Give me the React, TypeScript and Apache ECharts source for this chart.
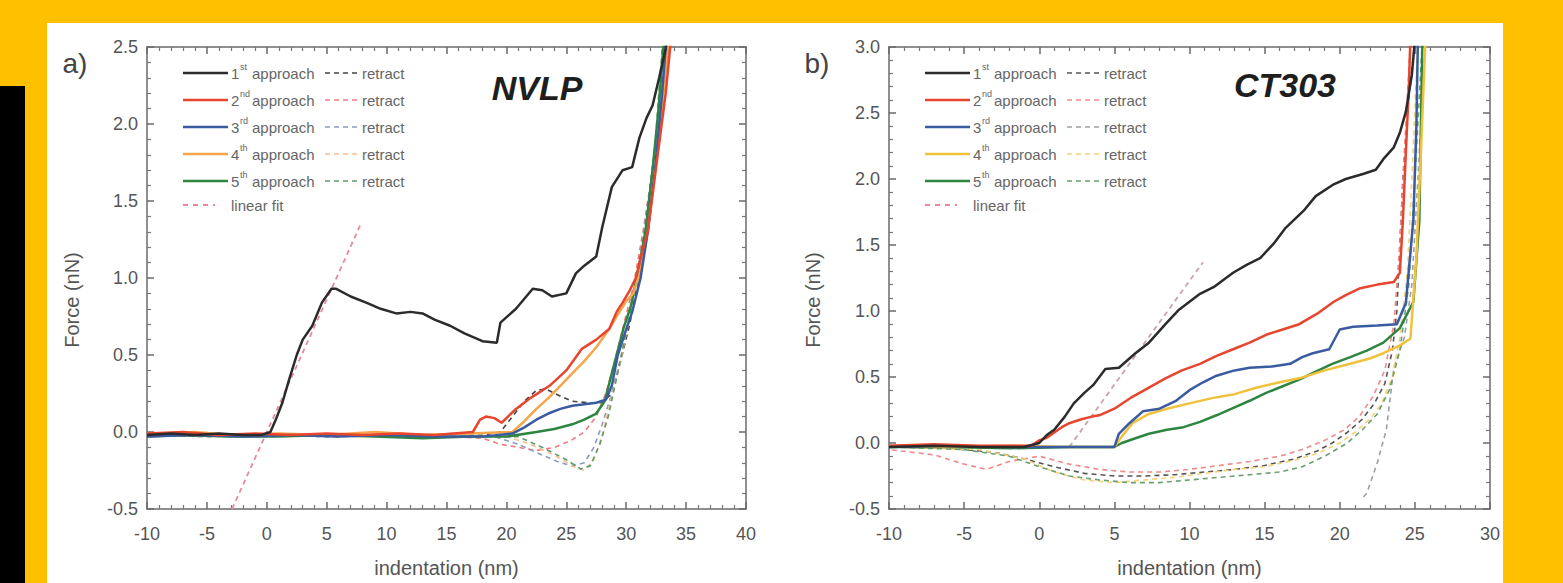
import React, { useEffect, useRef } from "react";
import * as echarts from "echarts";

type P = [number, number][];

// ---------- Panel a) NVLP ----------
const xTicksA = { min: -10, max: 40, step: 5 };
const yTicksA = { min: -0.5, max: 2.5, step: 0.5 };

const nvlpApproach1: P = [[-10,-0.02],[-8,-0.01],[-6,-0.02],[-4,-0.01],[-2,-0.02],[-0.5,-0.02],[0.3,0.0],[0.8,0.09],[1.3,0.19],[1.9,0.35],[2.5,0.5],[3,0.6],[3.8,0.69],[4.6,0.84],[5.4,0.93],[5.8,0.93],[7,0.88],[8.3,0.84],[9.5,0.8],[10.8,0.77],[12,0.78],[13,0.77],[14,0.73],[15.3,0.69],[16.5,0.64],[18,0.59],[19.2,0.58],[19.5,0.71],[20.8,0.8],[22.2,0.93],[23,0.92],[23.8,0.88],[25,0.9],[25.8,1.03],[26.5,1.08],[27.5,1.14],[28,1.33],[28.8,1.59],[29.7,1.7],[30.5,1.72],[31.1,1.91],[31.7,2.04],[32.2,2.12],[32.75,2.3],[33.3,2.49],[33.5,2.6]];
const nvlpRetract1: P = [[33.5,2.6],[33.2,2.3],[32.5,1.8],[31.8,1.4],[31,1.0],[30.3,0.7],[29.5,0.45],[28.8,0.25],[28,0.19],[26.8,0.19],[25.5,0.2],[24.3,0.24],[23.3,0.28],[22.5,0.27],[21.5,0.2],[20.5,0.1],[19.5,0.0],[18,-0.02],[14,-0.03],[10,-0.02],[6,-0.03],[2,-0.02],[-2,-0.03],[-6,-0.02],[-10,-0.02]];
const nvlpApproach2: P = [[-10,-0.01],[-7,0.0],[-4,-0.02],[-1,-0.01],[2,-0.02],[5,-0.01],[8,-0.02],[11,-0.01],[14,-0.02],[17.2,0.0],[17.8,0.08],[18.3,0.1],[19,0.09],[19.6,0.06],[20.8,0.15],[22,0.22],[23.6,0.3],[25,0.4],[26.3,0.54],[27.5,0.6],[28.6,0.67],[29.2,0.78],[29.7,0.84],[30.3,0.92],[30.8,1.0],[31.3,1.16],[31.8,1.3],[32.3,1.6],[32.8,1.9],[33.3,2.2],[33.8,2.6]];
const nvlpRetract2: P = [[33.8,2.6],[33,2.15],[32.2,1.7],[31.4,1.3],[30.6,0.95],[29.8,0.7],[29,0.45],[28.3,0.25],[27.5,0.1],[26.5,0.0],[25.5,-0.05],[24,-0.1],[22.5,-0.12],[21,-0.1],[19.5,-0.08],[18,-0.04],[15,-0.03],[10,-0.02],[5,-0.03],[0,-0.02],[-5,-0.03],[-10,-0.02]];
const nvlpApproach3: P = [[-10,-0.03],[-6,-0.02],[-2,-0.03],[2,-0.02],[6,-0.03],[10,-0.02],[14,-0.03],[18,-0.03],[20.5,-0.01],[21.5,0.03],[22.5,0.08],[23.5,0.12],[24.5,0.15],[25.5,0.17],[26.5,0.18],[27.5,0.19],[28.3,0.21],[28.8,0.3],[29.3,0.5],[29.8,0.62],[30.5,0.78],[31.2,1.0],[31.8,1.3],[32.4,1.7],[33,2.2],[33.4,2.6]];
const nvlpRetract3: P = [[33.4,2.6],[32.8,2.1],[32,1.6],[31.2,1.15],[30.4,0.8],[29.6,0.5],[28.8,0.25],[28,0.05],[27.3,-0.1],[26.5,-0.2],[25.5,-0.22],[24.5,-0.2],[23,-0.15],[21,-0.08],[19,-0.03],[15,-0.02],[10,-0.03],[5,-0.02],[0,-0.03],[-5,-0.02],[-10,-0.03]];
const nvlpApproach4: P = [[-10,-0.02],[-6,0.0],[-3,-0.02],[1,-0.01],[5,-0.02],[9,0.0],[13,-0.02],[17,-0.01],[20.5,0.0],[21.5,0.07],[22.5,0.15],[23.5,0.22],[24.5,0.3],[25.5,0.38],[26.5,0.46],[27.5,0.55],[28.5,0.66],[29.2,0.75],[30,0.85],[30.6,0.9],[31.2,1.05],[31.8,1.3],[32.4,1.7],[33,2.1],[33.6,2.6]];
const nvlpRetract4: P = [[33.5,2.6],[32.7,2.0],[31.9,1.5],[31.1,1.1],[30.3,0.75],[29.5,0.45],[28.7,0.2],[28,-0.02],[27.3,-0.18],[26.5,-0.25],[25.5,-0.22],[24,-0.15],[22,-0.08],[20,-0.03],[15,-0.02],[10,-0.03],[5,-0.02],[0,-0.03],[-5,-0.02],[-10,-0.03]];
const nvlpApproach5: P = [[-10,-0.03],[-7,-0.02],[-3,-0.03],[1,-0.03],[5,-0.02],[9,-0.03],[13,-0.04],[17,-0.03],[20,-0.03],[22.5,0.0],[24,0.02],[25.5,0.05],[26.5,0.08],[27.5,0.12],[28.2,0.2],[28.7,0.35],[29.2,0.5],[29.8,0.68],[30.4,0.82],[31,1.05],[31.6,1.3],[32.2,1.7],[32.7,2.1],[33.2,2.6]];
const nvlpRetract5: P = [[33.1,2.6],[32.4,1.85],[31.6,1.35],[30.8,0.95],[30,0.65],[29.2,0.35],[28.5,0.1],[27.8,-0.08],[27,-0.22],[26.2,-0.24],[25,-0.18],[23,-0.1],[21,-0.03],[15,-0.03],[10,-0.02],[5,-0.03],[0,-0.02],[-5,-0.03],[-10,-0.02]];
const nvlpLinearFit: P = [[-2.9,-0.5],[7.9,1.36]];

// ---------- Panel b) CT303 ----------
const xTicksB = { min: -10, max: 30, step: 5 };
const yTicksB = { min: -0.5, max: 3.0, step: 0.5 };

const ctApproach1: P = [[-10,-0.03],[-7,-0.02],[-4,-0.03],[-1,-0.03],[0,0.0],[0.5,0.06],[1,0.1],[1.7,0.2],[2.3,0.3],[3,0.38],[3.6,0.44],[4.4,0.56],[5.3,0.57],[6.4,0.68],[7.3,0.76],[8.4,0.9],[9.3,1.01],[10.7,1.13],[11.6,1.18],[12.9,1.29],[13.8,1.35],[14.7,1.4],[15.6,1.51],[16.4,1.63],[17.6,1.76],[18.4,1.87],[19.6,1.96],[20.4,2.0],[21.6,2.04],[22.4,2.07],[22.9,2.15],[23.6,2.24],[24,2.35],[24.4,2.51],[24.8,2.79],[25,3.05]];
const ctRetract1: P = [[25,3.05],[24.5,2.5],[24.2,2.0],[24,1.5],[23.8,1.0],[23.5,0.7],[23,0.45],[22.3,0.3],[21.5,0.18],[20.5,0.08],[19.5,0.0],[18.5,-0.06],[17,-0.12],[15,-0.17],[13,-0.2],[11,-0.22],[9,-0.24],[7,-0.25],[5,-0.25],[3,-0.23],[1,-0.18],[-1,-0.12],[-3,-0.07],[-6,-0.04],[-10,-0.03]];
const ctApproach2: P = [[-10,-0.02],[-7,-0.01],[-4,-0.02],[-0.5,-0.02],[0,0.02],[0.5,0.04],[1,0.08],[1.5,0.12],[2,0.15],[2.8,0.18],[3.5,0.2],[4,0.21],[5,0.26],[6.2,0.35],[7.3,0.42],[8.4,0.49],[9.5,0.55],[10.7,0.6],[11.8,0.66],[12.9,0.71],[14,0.76],[15.1,0.82],[16.2,0.86],[17.3,0.9],[18.5,0.98],[19.6,1.07],[20.4,1.12],[21.3,1.17],[22.5,1.2],[23.6,1.22],[24,1.29],[24.2,1.68],[24.4,2.2],[24.6,2.7],[24.7,3.05]];
const ctRetract2: P = [[24.7,3.05],[24.3,2.2],[24,1.5],[23.6,0.9],[23,0.55],[22.2,0.35],[21.3,0.2],[20.3,0.1],[19,0.02],[17.5,-0.05],[16,-0.1],[14,-0.14],[12,-0.17],[10,-0.2],[8,-0.22],[6,-0.22],[4,-0.2],[2,-0.16],[0,-0.1],[-2,-0.14],[-3.5,-0.2],[-5,-0.16],[-7,-0.09],[-10,-0.05]];
const ctApproach3: P = [[-10,-0.03],[-6,-0.02],[-2,-0.03],[2,-0.03],[5,-0.03],[5.3,0.07],[6,0.15],[6.9,0.24],[8,0.26],[9.1,0.32],[10,0.4],[10.9,0.46],[11.8,0.51],[13,0.55],[14,0.57],[15.5,0.58],[16.7,0.6],[17.5,0.65],[18.2,0.68],[19.3,0.71],[20,0.86],[20.9,0.88],[22.5,0.89],[23.8,0.9],[24.4,1.06],[24.9,1.69],[25.1,2.4],[25.2,3.05]];
const ctRetract3: P = [[25.7,3.05],[25.2,2.0],[24.8,1.2],[24.3,0.8],[23.6,0.57],[23.1,0.1],[22.5,-0.15],[21.8,-0.38],[21.5,-0.42]];
const ctApproach4: P = [[-10,-0.02],[-6,-0.03],[-2,-0.02],[2,-0.03],[5,-0.03],[5.5,0.05],[6.2,0.15],[7.3,0.22],[8.5,0.26],[10,0.3],[11.5,0.34],[13,0.37],[14.5,0.42],[16,0.46],[17.3,0.49],[19,0.55],[20.7,0.6],[22,0.64],[22.9,0.68],[24,0.74],[24.7,0.79],[25.1,1.4],[25.4,2.2],[25.7,3.05]];
const ctRetract4: P = [[25.2,3.05],[24.8,2.0],[24.5,1.3],[24,0.8],[23.5,0.5],[22.8,0.3],[22,0.18],[21,0.08],[20,0.0],[18.5,-0.08],[17,-0.13],[15,-0.18],[13,-0.2],[11,-0.23],[9,-0.26],[7,-0.28],[5,-0.3],[3,-0.28],[1,-0.22],[-1,-0.12],[-4,-0.05],[-10,-0.03]];
const ctApproach5: P = [[-10,-0.03],[-6,-0.03],[-2,-0.04],[2,-0.03],[5,-0.03],[5.5,0.0],[6.5,0.04],[7.3,0.07],[8.5,0.1],[9.6,0.12],[10.7,0.16],[11.8,0.21],[13,0.27],[14,0.32],[15.1,0.38],[16.2,0.43],[17.3,0.48],[18.4,0.54],[19.5,0.6],[20.7,0.65],[21.8,0.7],[22.9,0.76],[24,0.87],[24.9,1.07],[25.3,1.69],[25.4,2.4],[25.5,3.05]];
const ctRetract5: P = [[25.5,3.05],[25,2.0],[24.6,1.2],[24,0.7],[23.3,0.4],[22.5,0.22],[21.5,0.1],[20.5,0.0],[19,-0.1],[17.5,-0.18],[16,-0.22],[14,-0.24],[12,-0.26],[10,-0.28],[8,-0.3],[6,-0.3],[4,-0.28],[2,-0.25],[0,-0.18],[-2,-0.1],[-5,-0.05],[-10,-0.03]];
const ctLinearFit: P = [[2.0,-0.03],[10.9,1.37]];

// ---------- legend / labels ----------
const ordinals = ["1", "2", "3", "4", "5"];
const ordinalSuffix = ["st", "nd", "rd", "th", "th"];
const colorsA = ["#2b2b2b", "#e8452f", "#3a5ba0", "#f5a54a", "#2e8540"];
const colorsB = ["#2b2b2b", "#e8452f", "#3a5ba0", "#f0c23c", "#2e8540"];
const retractColorsA = ["#444444", "#f07a80", "#8a9cc4", "#f6c08a", "#5f9a6a"];
const retractColorsB = ["#555555", "#f08a8a", "#9aa0aa", "#f3d27a", "#6aa070"];
const fitColor = "#e8899a";

const FONT = "'Liberation Sans', Arial, Helvetica, sans-serif";
const GRID_A = { left: 147, top: 47, width: 599, height: 466 };
const GRID_B = { left: 889, top: 47, width: 601, height: 466 };
const legendRowsY = [73, 100, 127, 154, 181, 205];

function mkLine(data: P, color: string, idx: number, dashed: boolean, width: number, z = 3) {
  return {
    type: "line",
    data,
    xAxisIndex: idx * 2,
    yAxisIndex: idx * 2,
    showSymbol: false,
    symbol: "none",
    clip: true,
    z,
    lineStyle: { color, width, type: dashed ? [5, 4] : "solid" },
    emphasis: { disabled: true },
    silent: true,
  };
}

function xAxes(gridIndex: number, t: { min: number; max: number; step: number }, name: string) {
  const common = {
    gridIndex,
    type: "value",
    min: t.min,
    max: t.max,
    interval: t.step,
    splitLine: { show: false },
    axisLine: { show: true, onZero: false, lineStyle: { color: "#6a6a6a", width: 1.5 } },
    axisTick: { show: true, inside: true, length: 7, lineStyle: { color: "#6a6a6a", width: 1.5 } },
    minorTick: { show: true, splitNumber: 5, length: 4, lineStyle: { color: "#777", width: 1.2 } },
  };
  return [
    {
      ...common,
      position: "bottom",
      name,
      nameLocation: "middle",
      nameGap: 49,
      nameTextStyle: { fontFamily: FONT, fontSize: 20, color: "#555" },
      axisLabel: { show: true, margin: 16, fontFamily: FONT, fontSize: 18, color: "#555", formatter: (v: number) => String(v) },
    },
    { ...common, position: "top", axisLabel: { show: false } },
  ];
}

function yAxes(gridIndex: number, t: { min: number; max: number; step: number }) {
  const common = {
    gridIndex,
    type: "value",
    min: t.min,
    max: t.max,
    interval: t.step,
    splitLine: { show: false },
    axisLine: { show: true, onZero: false, lineStyle: { color: "#6a6a6a", width: 1.5 } },
    axisTick: { show: true, inside: true, length: 7, lineStyle: { color: "#6a6a6a", width: 1.5 } },
    minorTick: { show: true, splitNumber: 5, length: 4, lineStyle: { color: "#777", width: 1.2 } },
  };
  return [
    {
      ...common,
      position: "left",
      axisLabel: { show: true, margin: 9, fontFamily: FONT, fontSize: 18, color: "#555", formatter: (v: number) => v.toFixed(1) },
    },
    { ...common, position: "right", axisLabel: { show: false } },
  ];
}

function legend(x0: number, colors: string[], rcolors: string[]) {
  const els: any[] = [];
  for (let i = 0; i < 5; i++) {
    const y = legendRowsY[i];
    els.push({ type: "line", shape: { x1: x0, y1: y, x2: x0 + 45, y2: y }, style: { stroke: colors[i], lineWidth: 2.5 } });
    els.push({ type: "text", x: x0 + 48, y, style: { text: ordinals[i], fill: "#666", fontFamily: FONT, fontSize: 15, align: "left", verticalAlign: "middle" } });
    els.push({ type: "text", x: x0 + 57, y: y - 6, style: { text: ordinalSuffix[i], fill: "#666", fontFamily: FONT, fontSize: 9, align: "left", verticalAlign: "middle" } });
    els.push({ type: "text", x: x0 + 69, y, style: { text: "approach", fill: "#666", fontFamily: FONT, fontSize: 15, align: "left", verticalAlign: "middle" } });
    els.push({ type: "line", shape: { x1: x0 + 142, y1: y, x2: x0 + 176, y2: y }, style: { stroke: rcolors[i], lineWidth: 1.6, lineDash: [5, 4] } });
    els.push({ type: "text", x: x0 + 179, y, style: { text: "retract", fill: "#666", fontFamily: FONT, fontSize: 15, align: "left", verticalAlign: "middle" } });
  }
  const y = legendRowsY[5];
  els.push({ type: "line", shape: { x1: x0, y1: y, x2: x0 + 32, y2: y }, style: { stroke: fitColor, lineWidth: 1.8, lineDash: [5, 5] } });
  els.push({ type: "text", x: x0 + 48, y, style: { text: "linear fit", fill: "#666", fontFamily: FONT, fontSize: 15, align: "left", verticalAlign: "middle" } });
  return els;
}

const approachesA = [nvlpApproach1, nvlpApproach2, nvlpApproach3, nvlpApproach4, nvlpApproach5];
const retractsA = [nvlpRetract1, nvlpRetract2, nvlpRetract3, nvlpRetract4, nvlpRetract5];
const approachesB = [ctApproach1, ctApproach2, ctApproach3, ctApproach4, ctApproach5];
const retractsB = [ctRetract1, ctRetract2, ctRetract3, ctRetract4, ctRetract5];

function buildOption() {
  const series: any[] = [];
  retractsA.forEach((d, i) => series.push(mkLine(d, retractColorsA[i], 0, true, 1.6, 2)));
  retractsB.forEach((d, i) => series.push(mkLine(d, retractColorsB[i], 1, true, 1.6, 2)));
  series.push(mkLine(nvlpLinearFit, fitColor, 0, true, 1.8, 2));
  series.push(mkLine(ctLinearFit, "#c9a3ab", 1, true, 1.8, 2));
  [4, 3, 2, 1, 0].forEach((i) => series.push(mkLine(approachesA[i], colorsA[i], 0, false, 2.5, 3)));
  [4, 3, 2, 1, 0].forEach((i) => series.push(mkLine(approachesB[i], colorsB[i], 1, false, 2.5, 3)));

  const graphics: any[] = [
    ...legend(183, colorsA, retractColorsA),
    ...legend(925, colorsB, retractColorsB),
    { type: "text", x: 75, y: 63, style: { text: "a)", fill: "#444", fontFamily: FONT, fontSize: 28, align: "center", verticalAlign: "middle" } },
    { type: "text", x: 817, y: 63, style: { text: "b)", fill: "#444", fontFamily: FONT, fontSize: 28, align: "center", verticalAlign: "middle" } },
    { type: "text", x: 537, y: 88, style: { text: "NVLP", fill: "#1e1e1e", fontFamily: FONT, fontSize: 34, fontWeight: "bold", fontStyle: "italic", align: "center", verticalAlign: "middle" } },
    { type: "text", x: 1285, y: 85, style: { text: "CT303", fill: "#1e1e1e", fontFamily: FONT, fontSize: 34, fontWeight: "bold", fontStyle: "italic", align: "center", verticalAlign: "middle" } },
    { type: "text", x: 72, y: 300, rotation: Math.PI / 2, style: { text: "Force (nN)", fill: "#555", fontFamily: FONT, fontSize: 20, align: "center", verticalAlign: "middle" } },
    { type: "text", x: 813, y: 300, rotation: Math.PI / 2, style: { text: "Force (nN)", fill: "#555", fontFamily: FONT, fontSize: 20, align: "center", verticalAlign: "middle" } },
  ];

  return {
    animation: false,
    backgroundColor: "transparent",
    grid: [
      { ...GRID_A, containLabel: false },
      { ...GRID_B, containLabel: false },
    ],
    xAxis: [...xAxes(0, xTicksA, "indentation (nm)"), ...xAxes(1, xTicksB, "indentation (nm)")],
    yAxis: [...yAxes(0, yTicksA), ...yAxes(1, yTicksB)],
    graphic: { elements: graphics },
    series,
  };
}

export default function App() {
  const ref = useRef<HTMLDivElement>(null);
  useEffect(() => {
    if (!ref.current) return;
    const chart = echarts.init(ref.current, null, { renderer: "svg" });
    chart.setOption(buildOption() as any);
    return () => chart.dispose();
  }, []);
  return (
    <div style={{ position: "fixed", left: 0, top: 0, width: 1563, height: 583, background: "#ffc000", overflow: "hidden" }}>
      <div style={{ position: "absolute", left: 47, top: 23, width: 1456, height: 560, background: "#ffffff" }} />
      <div style={{ position: "absolute", left: 0, top: 86, width: 25, height: 497, background: "#000000" }} />
      <div ref={ref} style={{ position: "absolute", left: 0, top: 0, width: 1563, height: 583 }} />
      <div style={{ position: "absolute", left: 1503, top: 0, width: 60, height: 583, background: "#ffc000" }} />
    </div>
  );
}
